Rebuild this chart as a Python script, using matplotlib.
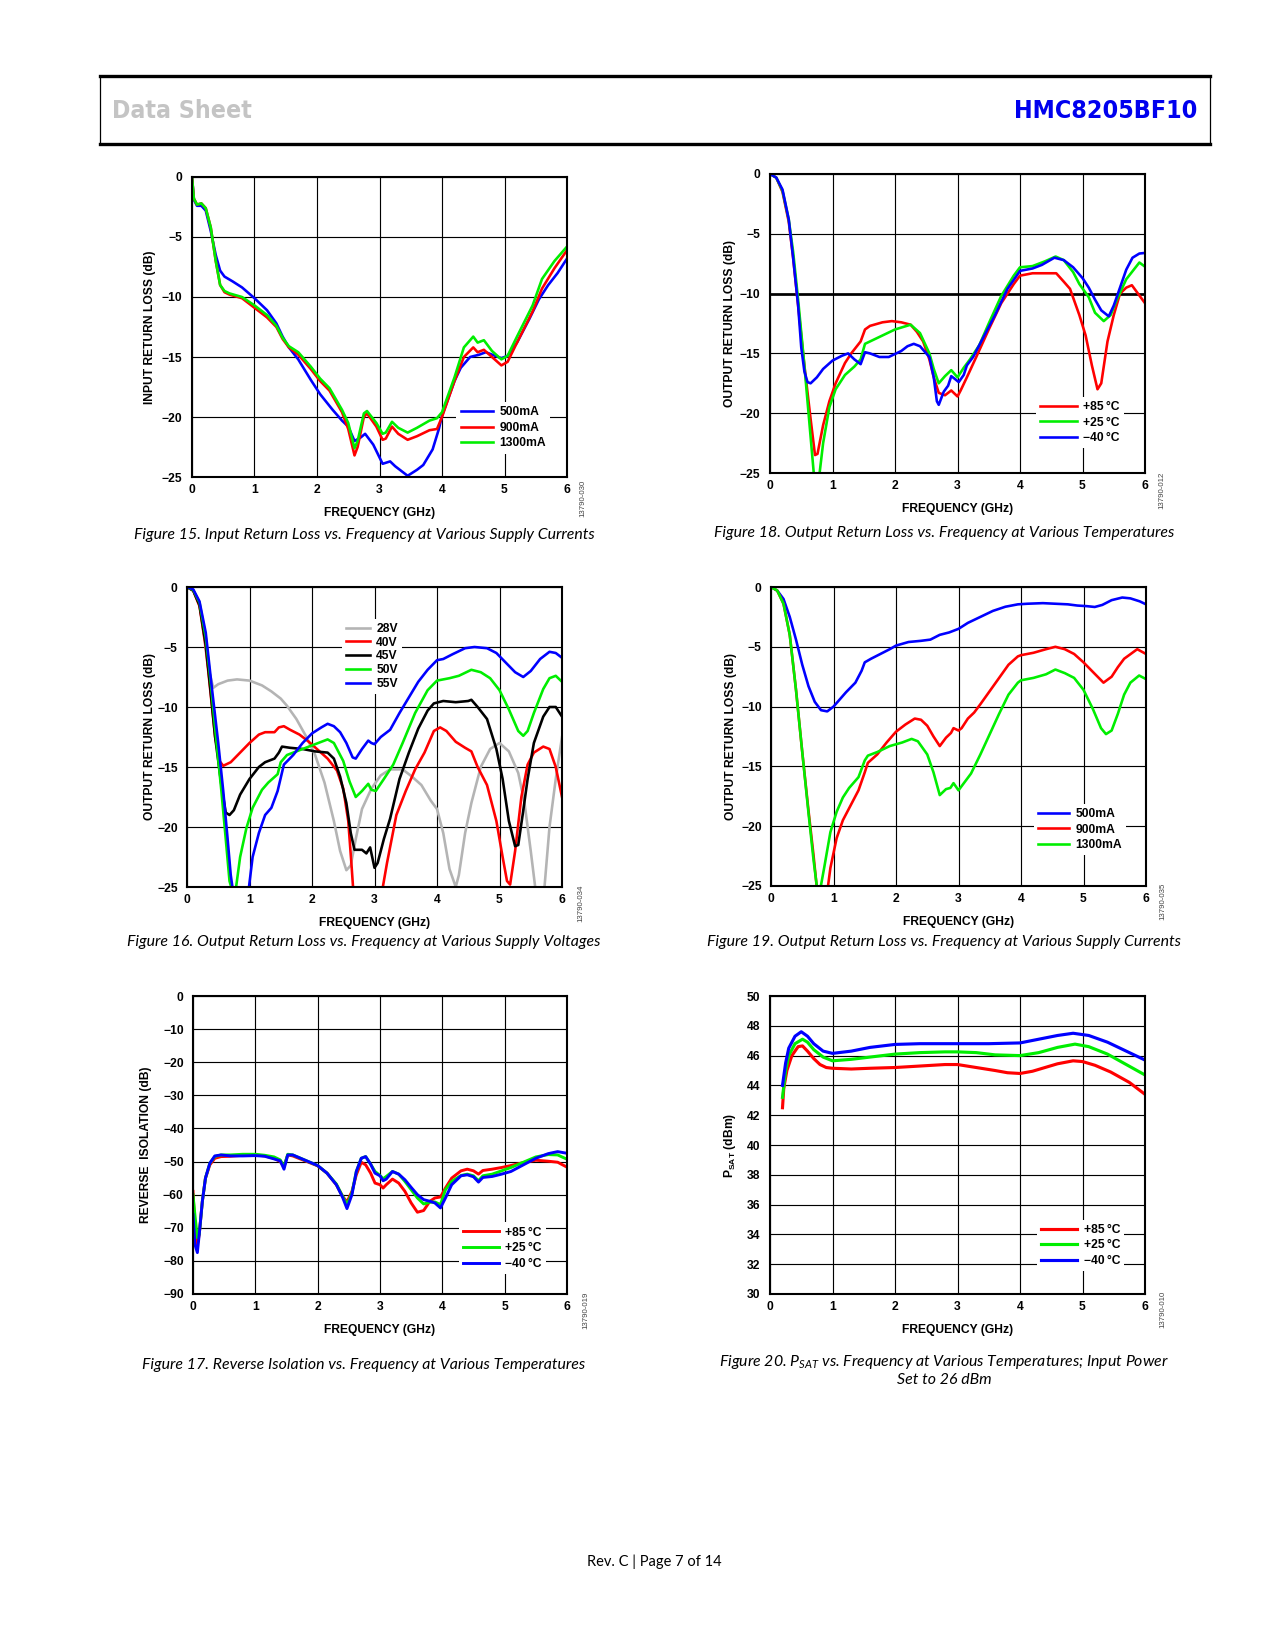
import numpy as np
import matplotlib
matplotlib.use("Agg")
import matplotlib.pyplot as plt
from matplotlib import font_manager
from matplotlib.font_manager import FontProperties
from matplotlib.lines import Line2D

W, H, DPI = 1275, 1650, 150

installed = {f.name for f in font_manager.fontManager.ttflist}
CAP_FONT = 'Lato' if 'Lato' in installed else 'DejaVu Sans'

plt.rcParams['font.family'] = ['Liberation Sans', 'DejaVu Sans']
plt.rcParams['mathtext.fontset'] = 'custom'
plt.rcParams['mathtext.rm'] = 'Liberation Sans'
plt.rcParams['mathtext.bf'] = 'Liberation Sans:bold'
plt.rcParams['mathtext.it'] = CAP_FONT + ':italic'

RED, GREEN, BLUE, GRAY = '#ff0000', '#00ee00', '#0000ff', '#b4b4b4'


def narrow_bold_font():
    # the page header uses a condensed bold face; take the narrowest bold one installed
    rank = {'ultra-condensed': 0, 'extra-condensed': 1, 'condensed': 2, 'semi-condensed': 3}
    best, best_rank = None, 99
    for f in font_manager.fontManager.ttflist:
        w = f.weight if isinstance(f.weight, int) else (700 if 'bold' in str(f.weight) else 400)
        if w < 600 or f.style != 'normal':
            continue
        r = rank.get(str(f.stretch), 99)
        if 'Narrow' in f.name or 'Condensed' in f.name:
            r = min(r, 2)
        if r < best_rank:
            best, best_rank = f, r
    if best is None:
        return FontProperties(family='Liberation Sans', weight='bold')
    return FontProperties(fname=best.fname)


# ---- Figure 15: input return loss vs frequency, supply currents
f15_x_500 = [0, 0.03, 0.08, 0.15, 0.22, 0.3, 0.38, 0.45, 0.52, 0.65, 0.8, 1.0, 1.2, 1.35, 1.45,
             1.55, 1.7, 1.9, 2.05, 2.25, 2.4, 2.5, 2.6, 2.7, 2.77, 2.9, 3.05, 3.17, 3.25, 3.45,
             3.6, 3.7, 3.85, 3.95, 4.0, 4.2, 4.3, 4.45, 4.6, 4.7, 4.85, 4.95, 5.05, 5.2, 5.4,
             5.55, 5.7, 5.85, 6.0]
f15_y_500 = [0, -1.9, -2.4, -2.4, -2.8, -4.5, -6.5, -7.8, -8.3, -8.7, -9.2, -10.1, -11.1, -12.2, -13.3,
             -14.2, -15.2, -16.9, -18.1, -19.4, -20.3, -20.8, -22.0, -21.7, -21.4, -22.3, -23.9, -23.7, -24.1, -24.9,
             -24.4, -24.0, -22.7, -21.0, -19.9, -17.0, -15.9, -15.0, -14.8, -14.6, -14.9, -15.1, -14.9, -13.8, -11.8,
             -10.2, -9.0, -8.0, -6.8]
f15_x = [0, 0.03, 0.08, 0.15, 0.22, 0.3, 0.38, 0.45, 0.52, 0.6, 0.8, 1.0, 1.2, 1.35, 1.45,
         1.55, 1.7, 1.9, 2.05, 2.2, 2.4, 2.5, 2.6, 2.65, 2.75, 2.8, 2.95, 3.05, 3.1, 3.2,
         3.3, 3.45, 3.6, 3.8, 3.92, 4.0, 4.2, 4.35, 4.5, 4.57, 4.67, 4.8, 4.95, 5.05, 5.2,
         5.45, 5.6, 5.8, 6.0]
f15_y_900 = [0, -1.8, -2.3, -2.2, -2.6, -4.2, -7.0, -9.0, -9.6, -9.8, -10.1, -10.9, -11.7, -12.5, -13.5,
             -14.2, -14.8, -16.0, -17.0, -17.8, -19.6, -21.0, -23.2, -22.5, -20.0, -19.7, -20.8, -21.9, -21.8, -20.8,
             -21.4, -21.9, -21.6, -21.1, -21.0, -20.0, -17.0, -15.0, -14.2, -14.6, -14.4, -15.0, -15.7, -15.4, -13.8,
             -11.2, -9.3, -7.6, -6.1]
f15_y_1300 = [0, -1.8, -2.3, -2.2, -2.6, -4.2, -7.0, -9.0, -9.5, -9.7, -10.0, -10.7, -11.5, -12.4, -13.4,
              -14.1, -14.6, -15.8, -16.8, -17.6, -19.4, -20.5, -22.6, -22.0, -19.7, -19.5, -20.5, -21.4, -21.3, -20.4,
              -20.9, -21.3, -20.9, -20.3, -20.1, -19.6, -16.7, -14.2, -13.3, -13.8, -13.6, -14.5, -15.2, -14.9, -13.3,
              -10.7, -8.5, -7.0, -5.8]

# ---- Figure 18: output return loss vs frequency, temperatures
f18_x_85 = [0, 0.1, 0.2, 0.3, 0.37, 0.45, 0.55, 0.65, 0.72, 0.76, 0.85, 0.95, 1.05, 1.2, 1.3,
            1.45, 1.52, 1.6, 1.8, 1.95, 2.1, 2.25, 2.35, 2.45, 2.55, 2.62, 2.7, 2.8, 2.9, 3.0,
            3.05, 3.15, 3.3, 3.5, 3.7, 3.9, 4.0, 4.2, 4.45, 4.58, 4.7, 4.8, 4.95, 5.05, 5.15,
            5.24, 5.3, 5.4, 5.5, 5.6, 5.7, 5.79, 6.0]
f18_y_85 = [0, -0.3, -1.5, -4.0, -7.0, -11.0, -16.0, -20.5, -23.5, -23.4, -21.0, -19.0, -17.5, -15.8, -15.0,
            -14.0, -13.0, -12.7, -12.4, -12.3, -12.4, -12.6, -13.2, -14.0, -15.5, -17.0, -18.3, -18.5, -18.1, -18.6,
            -18.1, -17.0, -15.3, -13.0, -10.8, -9.2, -8.5, -8.3, -8.3, -8.3, -9.0, -9.6, -11.8, -13.5, -16.0,
            -18.0, -17.5, -14.0, -11.8, -10.0, -9.5, -9.3, -10.8]
f18_x_25 = [0, 0.1, 0.2, 0.3, 0.37, 0.45, 0.55, 0.65, 0.7, 0.76, 0.85, 0.95, 1.05, 1.2, 1.35,
            1.45, 1.52, 1.6, 1.8, 2.0, 2.25, 2.4, 2.55, 2.62, 2.7, 2.8, 2.9, 3.0, 3.1, 3.2,
            3.35, 3.5, 3.7, 3.9, 4.0, 4.2, 4.4, 4.57, 4.7, 4.85, 4.95, 5.1, 5.2, 5.34, 5.45,
            5.55, 5.7, 5.91, 6.0]
f18_y_25 = [0, -0.3, -1.4, -3.8, -6.5, -10.5, -16.0, -22.0, -25.0, -26.5, -22.5, -19.5, -18.0, -16.8, -16.1,
            -15.5, -14.2, -14.0, -13.5, -13.0, -12.6, -13.3, -15.0, -16.3, -17.5, -16.9, -16.4, -17.0, -16.2, -15.5,
            -14.3, -12.5, -10.2, -8.5, -7.8, -7.7, -7.3, -6.9, -7.2, -8.2, -9.2, -10.3, -11.6, -12.3, -11.8,
            -10.5, -8.8, -7.4, -7.75]
f18_x_m40 = [0, 0.1, 0.2, 0.3, 0.37, 0.45, 0.5, 0.55, 0.6, 0.65, 0.75, 0.85, 1.0, 1.15, 1.25,
             1.35, 1.45, 1.52, 1.6, 1.75, 1.9, 2.1, 2.2, 2.3, 2.4, 2.55, 2.62, 2.67, 2.7, 2.78,
             2.85, 2.9, 2.95, 3.02, 3.1, 3.15, 3.25, 3.4, 3.6, 3.8, 4.0, 4.2, 4.35, 4.55, 4.7,
             4.85, 5.0, 5.1, 5.2, 5.3, 5.42, 5.5, 5.6, 5.7, 5.8, 5.91, 6.0]
f18_y_m40 = [0, -0.3, -1.3, -3.8, -7.0, -11.0, -14.5, -16.5, -17.4, -17.5, -17.0, -16.3, -15.6, -15.2, -15.0,
             -15.5, -15.9, -14.9, -15.0, -15.3, -15.3, -14.8, -14.4, -14.2, -14.4, -15.3, -17.0, -19.0, -19.3, -18.2,
             -17.7, -16.9, -17.1, -17.4, -16.8, -16.0, -15.3, -13.8, -11.8, -9.6, -8.1, -7.9, -7.6, -7.0, -7.2,
             -7.8, -8.7, -9.5, -10.5, -11.4, -11.9, -11.0, -9.5, -8.0, -7.0, -6.65, -6.6]

# ---- Figure 16: output return loss vs frequency, supply voltages
f16_x_28 = [0, 0.1, 0.2, 0.27, 0.33, 0.42, 0.5, 0.65, 0.8, 1.0, 1.2, 1.35, 1.5, 1.6, 1.75,
            1.9, 2.05, 2.2, 2.35, 2.45, 2.55, 2.62, 2.7, 2.8, 2.95, 3.1, 3.25, 3.45, 3.6, 3.75,
            3.9, 4.0, 4.1, 4.2, 4.3, 4.35, 4.45, 4.55, 4.7, 4.85, 5.0, 5.15, 5.3, 5.4, 5.5,
            5.63, 5.72, 5.8, 5.9, 6.0]
f16_y_28 = [0, -0.3, -1.5, -4.0, -6.5, -8.4, -8.1, -7.8, -7.7, -7.8, -8.2, -8.7, -9.3, -9.9, -11.0,
            -12.4, -14.0, -16.3, -19.5, -22.0, -23.6, -23.2, -21.0, -18.5, -16.8, -15.7, -15.2, -15.2, -15.8, -16.5,
            -17.8, -18.5, -20.5, -23.5, -25.0, -24.0, -20.5, -18.0, -15.0, -13.5, -13.0, -13.7, -15.5, -18.0, -22.0,
            -27.5, -25.0, -20.0, -16.0, -12.5]
f16_x_40 = [0, 0.1, 0.2, 0.3, 0.38, 0.45, 0.52, 0.58, 0.7, 0.85, 1.0, 1.15, 1.25, 1.4, 1.47,
            1.55, 1.65, 1.8, 1.95, 2.1, 2.25, 2.4, 2.5, 2.58, 2.63, 2.67, 2.9, 3.1, 3.2, 3.35,
            3.5, 3.65, 3.8, 3.95, 4.05, 4.15, 4.3, 4.45, 4.55, 4.65, 4.8, 4.95, 5.05, 5.12, 5.17,
            5.25, 5.35, 5.45, 5.55, 5.7, 5.8, 5.9, 6.0]
f16_y_40 = [0, -0.3, -1.6, -5.0, -9.0, -12.5, -14.5, -14.9, -14.6, -13.8, -13.0, -12.3, -12.1, -12.1, -11.7,
            -11.6, -11.9, -12.3, -12.9, -13.6, -14.3, -15.3, -16.8, -19.5, -23.0, -26.0, -28.0, -26.0, -23.0, -19.0,
            -17.0, -15.2, -13.8, -12.0, -11.7, -12.0, -12.9, -13.4, -13.7, -15.0, -16.5, -19.5, -22.5, -24.5, -24.8,
            -22.0, -17.5, -14.8, -13.8, -13.3, -13.5, -15.0, -17.5]
f16_x_45 = [0, 0.1, 0.2, 0.3, 0.38, 0.45, 0.55, 0.62, 0.68, 0.75, 0.85, 1.0, 1.15, 1.25, 1.4,
            1.47, 1.52, 1.65, 1.85, 2.05, 2.25, 2.35, 2.45, 2.55, 2.62, 2.68, 2.8, 2.87, 2.93, 3.0,
            3.05, 3.15, 3.25, 3.4, 3.55, 3.7, 3.85, 3.95, 4.1, 4.3, 4.5, 4.55, 4.65, 4.8, 4.95,
            5.05, 5.15, 5.25, 5.3, 5.37, 5.45, 5.55, 5.7, 5.8, 5.9, 6.0]
f16_y_45 = [0, -0.3, -1.5, -4.8, -8.8, -12.5, -16.5, -18.8, -19.0, -18.6, -17.3, -16.0, -15.0, -14.6, -14.3,
            -13.8, -13.3, -13.4, -13.5, -13.7, -13.8, -14.3, -15.8, -18.0, -20.5, -21.9, -21.9, -22.2, -21.7, -23.4,
            -23.0, -21.0, -19.3, -16.0, -13.8, -11.8, -10.3, -9.7, -9.5, -9.6, -9.5, -9.4, -10.0, -11.0, -13.5,
            -16.0, -19.5, -21.6, -21.5, -19.0, -16.0, -13.0, -10.8, -10.0, -10.0, -10.8]
f16_x_50 = [0, 0.1, 0.2, 0.3, 0.38, 0.45, 0.55, 0.62, 0.68, 0.76, 0.85, 0.95, 1.05, 1.2, 1.3,
            1.45, 1.5, 1.6, 1.75, 1.95, 2.1, 2.25, 2.35, 2.5, 2.6, 2.7, 2.8, 2.9, 2.95, 3.02,
            3.15, 3.3, 3.45, 3.65, 3.85, 4.0, 4.2, 4.35, 4.55, 4.7, 4.85, 5.0, 5.15, 5.3, 5.38,
            5.45, 5.55, 5.7, 5.8, 5.9, 6.0]
f16_y_50 = [0, -0.25, -1.3, -4.2, -8.0, -11.8, -17.0, -21.0, -24.5, -26.0, -22.5, -20.1, -18.4, -16.9, -16.3,
            -15.6, -14.6, -14.0, -13.7, -13.3, -13.0, -12.7, -13.0, -14.5, -16.2, -17.5, -17.0, -16.4, -16.9, -17.0,
            -16.0, -14.8, -13.0, -10.5, -8.6, -7.8, -7.6, -7.4, -6.9, -7.1, -7.6, -8.6, -10.2, -12.0, -12.4,
            -12.0, -10.5, -8.5, -7.6, -7.4, -7.9]
f16_x_55 = [0, 0.1, 0.2, 0.3, 0.4, 0.5, 0.58, 0.65, 0.7, 0.74, 0.85, 0.98, 1.05, 1.15, 1.25,
            1.35, 1.45, 1.55, 1.7, 1.85, 2.0, 2.15, 2.25, 2.35, 2.45, 2.55, 2.65, 2.7, 2.8, 2.9,
            2.95, 3.0, 3.1, 3.25, 3.4, 3.55, 3.7, 3.85, 4.0, 4.1, 4.25, 4.45, 4.6, 4.8, 4.95,
            5.1, 5.25, 5.38, 5.5, 5.65, 5.8, 5.9, 6.0]
f16_y_55 = [0, -0.2, -1.2, -3.8, -8.5, -13.0, -17.0, -21.0, -24.0, -25.5, -29.0, -25.5, -22.5, -20.5, -19.0,
            -18.4, -17.0, -14.8, -14.0, -13.0, -12.2, -11.7, -11.4, -11.6, -12.1, -13.0, -14.2, -14.3, -13.5, -12.8,
            -13.0, -13.1, -12.5, -11.9, -10.5, -9.2, -7.9, -6.9, -6.1, -6.0, -5.6, -5.1, -5.0, -5.1, -5.5,
            -6.3, -7.1, -7.5, -7.0, -6.0, -5.4, -5.5, -5.9]

# ---- Figure 19: output return loss vs frequency, supply currents
f19_x_500 = [0, 0.1, 0.2, 0.3, 0.4, 0.5, 0.6, 0.7, 0.8, 0.9, 1.0, 1.1, 1.2, 1.35, 1.45,
             1.5, 1.6, 1.75, 1.9, 2.0, 2.2, 2.4, 2.55, 2.7, 2.85, 3.0, 3.15, 3.35, 3.55, 3.75,
             3.95, 4.1, 4.35, 4.55, 4.75, 4.9, 5.05, 5.18, 5.3, 5.45, 5.62, 5.75, 5.9, 6.0]
f19_y_500 = [0, -0.3, -1.0, -2.5, -4.4, -6.5, -8.3, -9.6, -10.3, -10.4, -10.0, -9.4, -8.8, -8.0, -7.0,
             -6.3, -6.0, -5.6, -5.2, -4.9, -4.6, -4.5, -4.4, -4.0, -3.8, -3.5, -3.0, -2.5, -2.0, -1.65,
             -1.45, -1.4, -1.35, -1.4, -1.45, -1.55, -1.6, -1.67, -1.5, -1.1, -0.88, -0.95, -1.2, -1.45]
f19_x_900 = [0, 0.1, 0.2, 0.3, 0.4, 0.5, 0.6, 0.68, 0.74, 0.82, 0.9, 0.95, 1.05, 1.15, 1.25,
             1.4, 1.5, 1.55, 1.7, 1.85, 2.0, 2.15, 2.3, 2.4, 2.5, 2.6, 2.7, 2.8, 2.88, 2.92,
             3.0, 3.05, 3.15, 3.25, 3.35, 3.5, 3.65, 3.8, 3.95, 4.0, 4.2, 4.4, 4.55, 4.7, 4.85,
             5.0, 5.15, 5.32, 5.45, 5.55, 5.65, 5.86, 6.0]
f19_y_900 = [0, -0.3, -1.4, -4.0, -8.6, -13.8, -18.7, -22.4, -25.5, -27.0, -25.5, -23.5, -21.0, -19.5, -18.5,
             -17.0, -15.5, -14.7, -14.0, -13.0, -12.1, -11.5, -11.0, -11.1, -11.6, -12.5, -13.3, -12.6, -12.2, -11.8,
             -12.0, -11.8, -11.0, -10.5, -9.8, -8.7, -7.6, -6.5, -5.8, -5.7, -5.5, -5.2, -5.0, -5.2, -5.6,
             -6.3, -7.1, -8.0, -7.5, -6.7, -6.0, -5.2, -5.6]
f19_x_1300 = [0, 0.1, 0.2, 0.3, 0.4, 0.5, 0.6, 0.68, 0.74, 0.77, 0.85, 0.95, 1.05, 1.15, 1.25,
              1.4, 1.5, 1.55, 1.7, 1.9, 2.1, 2.25, 2.35, 2.5, 2.6, 2.7, 2.8, 2.87, 2.92, 3.0,
              3.1, 3.2, 3.35, 3.5, 3.65, 3.8, 3.95, 4.0, 4.2, 4.4, 4.55, 4.7, 4.85, 5.0, 5.15,
              5.28, 5.36, 5.45, 5.55, 5.65, 5.75, 5.89, 6.0]
f19_y_1300 = [0, -0.3, -1.4, -4.0, -8.6, -13.8, -18.9, -22.8, -25.3, -25.8, -23.5, -20.5, -18.8, -17.6, -16.8,
              -15.9, -14.5, -14.1, -13.8, -13.3, -13.0, -12.7, -12.9, -14.0, -15.5, -17.4, -16.9, -16.8, -16.4, -17.0,
              -16.3, -15.6, -14.0, -12.3, -10.6, -9.0, -8.0, -7.8, -7.6, -7.3, -6.9, -7.2, -7.6, -8.6, -10.2,
              -11.8, -12.3, -12.0, -10.6, -9.0, -8.0, -7.4, -7.7]

# ---- Figure 17: reverse isolation vs frequency, temperatures
f17_x = [0.0, 0.03, 0.07, 0.1, 0.15, 0.2, 0.27, 0.35, 0.45, 0.6, 0.8, 1.0, 1.15, 1.3, 1.4,
         1.46, 1.52, 1.6, 1.8, 2.0, 2.15, 2.3, 2.4, 2.47, 2.55, 2.62, 2.7, 2.77, 2.85, 2.92,
         3.0, 3.05, 3.1, 3.2, 3.3, 3.4, 3.5, 3.6, 3.7, 3.8, 3.88, 3.97, 4.05, 4.15, 4.3,
         4.4, 4.5, 4.58, 4.65, 4.8, 4.95, 5.1, 5.3, 5.5, 5.7, 5.85, 6.0]
f17_y_85 = [-59, -70, -75, -72, -62, -55, -51, -49, -48.5, -48.4, -48.1, -48.0, -48.3, -49.0, -50.0,
            -51.5, -48.0, -48.3, -49.8, -51.3, -53.5, -57.0, -60.5, -62.2, -59.0, -54.0, -50.2, -51.0, -53.5, -56.5,
            -57.0, -58.0, -57.0, -55.3, -56.5, -59.0, -62.5, -65.3, -64.8, -62.0, -61.0, -60.7, -58.0, -55.0, -52.8,
            -52.3, -52.8, -53.8, -52.7, -52.3, -51.8, -51.2, -50.3, -49.6, -49.9, -50.2, -51.7]
f17_y_25 = [-60, -66, -73, -72, -62, -55, -50.5, -48.5, -48.0, -48.0, -47.8, -47.8, -48.1, -48.6, -49.5,
            -51.5, -47.8, -48.0, -49.6, -51.2, -53.5, -56.8, -60.5, -63.0, -59.5, -53.0, -49.0, -48.5, -50.8, -53.0,
            -54.2, -55.2, -54.5, -53.0, -53.8, -56.0, -58.5, -61.0, -62.8, -62.3, -62.2, -63.0, -58.5, -56.0, -54.2,
            -53.8, -54.3, -55.8, -54.3, -53.8, -52.8, -51.8, -50.2, -48.6, -47.9, -48.0, -49.3]
f17_y_m40 = [-66, -75, -77.5, -72, -62, -55, -50.5, -48.3, -48.0, -48.3, -48.3, -48.2, -48.4, -49.2, -49.8,
             -52.3, -48.0, -48.0, -49.6, -51.2, -53.5, -57.0, -60.8, -64.2, -60.0, -53.0, -49.0, -48.5, -50.8, -53.5,
             -54.3, -55.8, -55.3, -53.0, -53.8, -55.5, -57.8, -60.0, -61.5, -62.0, -62.5, -64.0, -61.0, -57.0, -54.3,
             -54.0, -54.6, -56.2, -54.8, -54.5, -53.8, -53.0, -51.0, -49.0, -47.6, -47.0, -47.5]

# ---- Figure 20: PSAT vs frequency, temperatures
f20_x_85 = [0.2, 0.22, 0.27, 0.35, 0.45, 0.52, 0.6, 0.7, 0.8, 0.9, 1.0, 1.3, 1.6, 2.0, 2.4,
            2.8, 3.0, 3.3, 3.6, 3.8, 4.0, 4.2, 4.4, 4.6, 4.85, 5.0, 5.2, 5.45, 5.75, 6.0]
f20_y_85 = [42.5, 43.8, 45.0, 46.0, 46.6, 46.65, 46.3, 45.8, 45.4, 45.2, 45.15, 45.1, 45.15, 45.2, 45.3,
            45.4, 45.4, 45.2, 45.0, 44.85, 44.8, 44.95, 45.2, 45.45, 45.65, 45.6, 45.35, 44.9, 44.2, 43.4]
f20_x_25 = [0.2, 0.25, 0.3, 0.4, 0.52, 0.6, 0.7, 0.85, 1.0, 1.3, 1.6, 2.0, 2.4, 2.8, 3.0,
            3.3, 3.6, 4.0, 4.3, 4.6, 4.88, 5.1, 5.4, 5.7, 6.0]
f20_y_25 = [43.2, 45.0, 46.0, 46.8, 47.1, 46.9, 46.4, 45.9, 45.65, 45.75, 45.9, 46.1, 46.2, 46.25, 46.25,
            46.2, 46.05, 46.0, 46.2, 46.55, 46.77, 46.6, 46.1, 45.4, 44.7]
f20_x_m40 = [0.2, 0.25, 0.3, 0.4, 0.5, 0.6, 0.7, 0.85, 1.0, 1.3, 1.6, 2.0, 2.4, 3.0, 3.5,
             4.0, 4.3, 4.6, 4.85, 5.1, 5.4, 5.7, 6.0]
f20_y_m40 = [44.0, 45.5, 46.5, 47.3, 47.6, 47.3, 46.8, 46.3, 46.15, 46.3, 46.55, 46.75, 46.8, 46.8, 46.8,
             46.85, 47.1, 47.35, 47.5, 47.35, 46.9, 46.3, 45.7]

TEMPS = ['+85\u2009°C', '+25\u2009°C', '\u221240\u2009°C']

fig = plt.figure(figsize=(W / DPI, H / DPI), dpi=DPI)


def panel(box, ylim, ystep, ylabel, ylabelpad):
    x0, y0, x1, y1 = box
    ax = fig.add_axes([x0 / W, 1 - y1 / H, (x1 - x0) / W, (y1 - y0) / H])
    ax.set_xlim(0, 6)
    ax.set_ylim(ylim)
    ax.set_xticks(range(7))
    ax.set_yticks(np.arange(ylim[0], ylim[1] + ystep / 2, ystep))
    ax.grid(True, color='black', linewidth=0.55)
    ax.tick_params(length=0, labelsize=5.8)
    ax.tick_params(axis='y', pad=4.5)
    ax.tick_params(axis='x', pad=3.5)
    for t in ax.get_xticklabels() + ax.get_yticklabels():
        t.set_fontweight('bold')
    for s in ax.spines.values():
        s.set_linewidth(1.0)
    ax.set_xlabel('FREQUENCY (GHz)', fontsize=5.8, fontweight='bold', labelpad=5)
    ax.set_ylabel(ylabel, fontsize=5.8, fontweight='bold', labelpad=ylabelpad)
    return ax


def legend(ax, x, y, hl, spacing=0.3):
    ax.legend(loc='upper left', bbox_to_anchor=(x, y), frameon=True, fancybox=False,
              facecolor='white', edgecolor='none', framealpha=1.0,
              prop={'size': 5.8, 'weight': 'bold'}, handlelength=hl,
              handletextpad=0.5, labelspacing=spacing, borderpad=0.35, borderaxespad=0)


def caption(x, y, s):
    fig.text(x / W, 1 - y / H, s, ha='center', va='center', fontsize=7.6,
             style='italic', family=CAP_FONT)


def tag(x, y, s):
    fig.text(x / W, 1 - y / H, s, ha='center', va='center', rotation=90,
             fontsize=3.8, color='#444444')


LW = 1.25

# Figure 15
ax = panel((192, 177, 567, 477), (-25, 0), 5, 'INPUT RETURN LOSS (dB)', 3)
ax.plot(f15_x_500, f15_y_500, color=BLUE, lw=LW, label='500mA')
ax.plot(f15_x, f15_y_900, color=RED, lw=LW, label='900mA')
ax.plot(f15_x, f15_y_1300, color=GREEN, lw=LW, label='1300mA')
legend(ax, 0.705, 0.25, 2.7)
caption(364, 535, 'Figure 15. Input Return Loss vs. Frequency at Various Supply Currents')
tag(583, 498, '13790-030')

# Figure 18
ax = panel((770, 174, 1145, 473), (-25, 0), 5, 'OUTPUT RETURN LOSS (dB)', 2)
ax.axhline(-10, color='black', lw=1.3, zorder=1.5)
ax.plot(f18_x_85, f18_y_85, color=RED, lw=LW, label=TEMPS[0])
ax.plot(f18_x_25, f18_y_25, color=GREEN, lw=LW, label=TEMPS[1])
ax.plot(f18_x_m40, f18_y_m40, color=BLUE, lw=LW, label=TEMPS[2])
legend(ax, 0.71, 0.255, 3.0)
caption(944, 533, 'Figure 18. Output Return Loss vs. Frequency at Various Temperatures')
tag(1162, 490, '13790-012')

# Figure 16
ax = panel((187, 587, 562, 887), (-25, 0), 5, 'OUTPUT RETURN LOSS (dB)', 0.5)
ax.plot(f16_x_28, f16_y_28, color=GRAY, lw=LW, label='28V')
ax.plot(f16_x_40, f16_y_40, color=RED, lw=LW, label='40V')
ax.plot(f16_x_45, f16_y_45, color='black', lw=LW, label='45V')
ax.plot(f16_x_50, f16_y_50, color=GREEN, lw=LW, label='50V')
ax.plot(f16_x_55, f16_y_55, color=BLUE, lw=LW, label='55V')
legend(ax, 0.413, 0.895, 2.0, spacing=0.15)
caption(364, 942, 'Figure 16. Output Return Loss vs. Frequency at Various Supply Voltages')
tag(581, 903, '13790-034')

# Figure 19
ax = panel((771, 587, 1146, 886), (-25, 0), 5, 'OUTPUT RETURN LOSS (dB)', 2)
ax.plot(f19_x_500, f19_y_500, color=BLUE, lw=LW, label='500mA')
ax.plot(f19_x_900, f19_y_900, color=RED, lw=LW, label='900mA')
ax.plot(f19_x_1300, f19_y_1300, color=GREEN, lw=LW, label='1300mA')
legend(ax, 0.70, 0.275, 2.6)
caption(944, 942, 'Figure 19. Output Return Loss vs. Frequency at Various Supply Currents')
tag(1163, 901, '13790-035')

# Figure 17
ax = panel((193, 996, 567, 1294), (-90, 0), 10, 'REVERSE  ISOLATION (dB)', 5)
ax.plot(f17_x, f17_y_85, color=RED, lw=1.4, label=TEMPS[0])
ax.plot(f17_x, f17_y_25, color=GREEN, lw=1.4, label=TEMPS[1])
ax.plot(f17_x, f17_y_m40, color=BLUE, lw=1.4, label=TEMPS[2])
legend(ax, 0.71, 0.24, 3.0)
caption(364, 1365, 'Figure 17. Reverse Isolation vs. Frequency at Various Temperatures')
tag(586, 1310, '13790-019')

# Figure 20
ax = panel((770, 996, 1145, 1294), (30, 50), 2, r'$\mathbf{P_{SAT}}$ (dBm)', 4.5)
ax.plot(f20_x_85, f20_y_85, color=RED, lw=1.5, label=TEMPS[0])
ax.plot(f20_x_25, f20_y_25, color=GREEN, lw=1.5, label=TEMPS[1])
ax.plot(f20_x_m40, f20_y_m40, color=BLUE, lw=1.5, label=TEMPS[2])
legend(ax, 0.712, 0.25, 3.0)
caption(944, 1362, r'Figure 20. $P_{SAT}$ vs. Frequency at Various Temperatures; Input Power')
caption(944, 1380, 'Set to 26 dBm')
tag(1163, 1309, '13790-010')

# page header box
for yy in (76, 144):
    fig.add_artist(Line2D([100 / W, 1210 / W], [1 - yy / H] * 2, transform=fig.transFigure,
                          color='black', lw=1.6))
for xx in (100, 1210):
    fig.add_artist(Line2D([xx / W] * 2, [1 - 76 / H, 1 - 144 / H], transform=fig.transFigure,
                          color='black', lw=0.6))

head = narrow_bold_font()
renderer = fig.canvas.get_renderer()
for x, s, color, ha, width in ((112, 'Data Sheet', '#c4c4c4', 'left', 140),
                               (1197, 'HMC8205BF10', '#0000ee', 'right', 184)):
    t = fig.text(x / W, 1 - 111 / H, s, ha=ha, va='center', color=color,
                 fontproperties=head.copy())
    t.set_fontsize(19)
    if 'bold' not in str(head.get_file()).lower():
        t.set_fontweight('bold')
    # shrink the size until the text is as wide as on the page
    w = t.get_window_extent(renderer).width
    if w > width:
        t.set_fontsize(19 * width / w)

fig.text(654 / W, 1 - 1562 / H, 'Rev. C | Page 7 of 14', ha='center', va='center',
         fontsize=7.0, family=CAP_FONT)

fig.savefig('out.png', dpi=DPI)
